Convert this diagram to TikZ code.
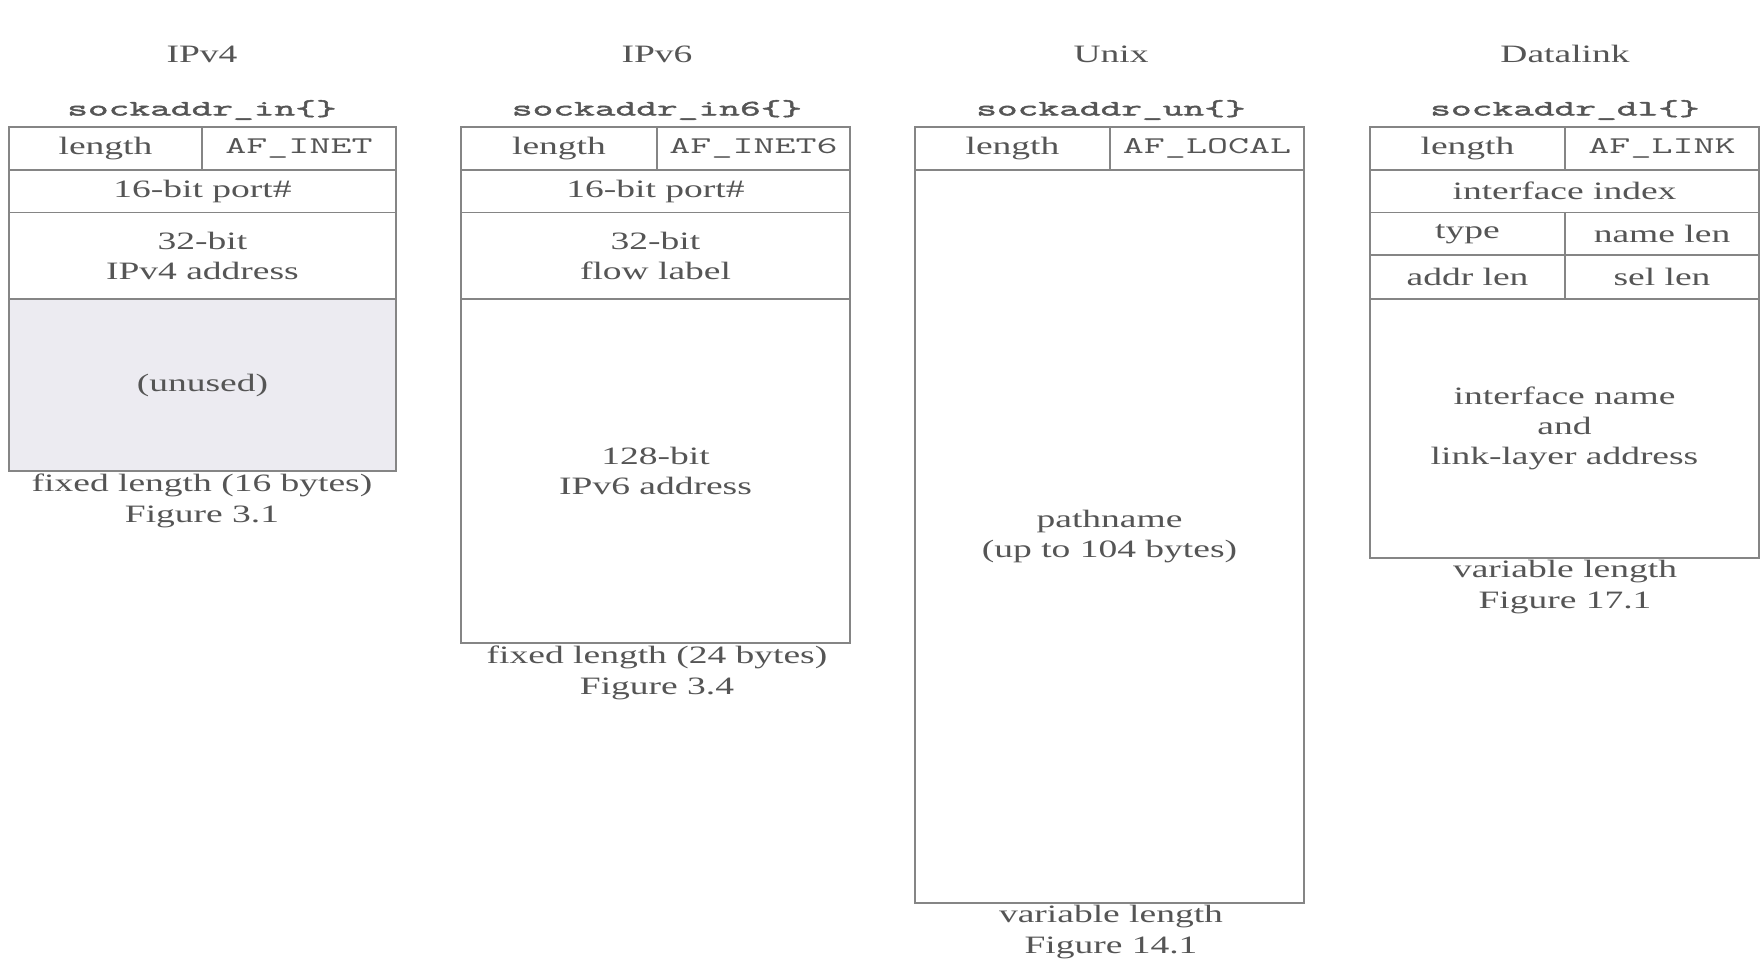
\documentclass[tikz,border=0pt]{standalone}
\usepackage{fontspec}
\setmainfont[FakeStretch=1.5]{Liberation Serif}
\newfontfamily\codefont{Latin Modern Mono}[FakeStretch=1.83, FakeBold=2.2]
\newfontfamily\affont{Latin Modern Mono}[FakeStretch=1.7]
\definecolor{linegray}{HTML}{858585}
\definecolor{textgray}{HTML}{555555}
\definecolor{unusedfill}{HTML}{ECEBF1}
\tikzset{
  x=1pt, y=-1pt,
  every node/.style={text=textgray, inner sep=0pt, outer sep=0pt, font=\fontsize{25}{30}\selectfont, align=center},
  cell/.style={draw=linegray, line width=1.8pt},
  aflabel/.style={font=\affont\fontsize{24}{28}\selectfont},
  structname/.style={font=\codefont\fontsize{22}{26}\selectfont},
  title/.style={font=\fontsize{25}{30}\selectfont},
  caption/.style={font=\fontsize{25}{31}\selectfont},
}
\begin{document}
\begin{tikzpicture}
\fill[white] (0,0) rectangle (1763,962);
\useasboundingbox (0,0) rectangle (1763,962);

% ---------- IPv4 ----------
\node[title] (t4) at (202,54) {IPv4};
\node[structname] (s4) at (202,110) {sockaddr\_in\{\}};
\node[cell, minimum width=193pt, minimum height=43pt] (v4len) at (105.5,148.5) {length};
\node[cell, aflabel, minimum width=194pt, minimum height=43pt] (v4af) at (299,148.5) {AF\_INET};
\node[cell, minimum width=387pt, minimum height=42.5pt] (v4port) at (202.5,191.25) {16-bit port\#};
\node[cell, minimum width=387pt, minimum height=86.5pt] (v4addr) at (202.5,255.75) {32-bit\\IPv4 address};
\node[cell, fill=unusedfill, minimum width=387pt, minimum height=172pt] (v4un) at (202.5,385) {(unused)};
\node[caption] (c4) at (202,500.5) {fixed length (16 bytes)\\Figure 3.1};

% ---------- IPv6 ----------
\node[title] (t6) at (657,54) {IPv6};
\node[structname] (s6) at (657,110) {sockaddr\_in6\{\}};
\node[cell, minimum width=196pt, minimum height=43pt] (v6len) at (559,148.5) {length};
\node[cell, aflabel, minimum width=193pt, minimum height=43pt] (v6af) at (753.5,148.5) {AF\_INET6};
\node[cell, minimum width=389pt, minimum height=42.5pt] (v6port) at (655.5,191.25) {16-bit port\#};
\node[cell, minimum width=389pt, minimum height=86.5pt] (v6flow) at (655.5,255.75) {32-bit\\flow label};
\node[cell, minimum width=389pt, minimum height=344pt] (v6addr) at (655.5,471) {128-bit\\IPv6 address};
\node[caption] (c6) at (657,672.5) {fixed length (24 bytes)\\Figure 3.4};

% ---------- Unix ----------
\node[title] (tu) at (1111,54) {Unix};
\node[structname] (su) at (1111,110) {sockaddr\_un\{\}};
\node[cell, minimum width=195pt, minimum height=43pt] (unlen) at (1012.5,148.5) {length};
\node[cell, aflabel, minimum width=194pt, minimum height=43pt] (unaf) at (1207,148.5) {AF\_LOCAL};
\node[cell, minimum width=389pt, minimum height=733pt] (unpath) at (1109.5,536.5) {pathname\\(up to 104 bytes)};
\node[caption] (cu) at (1111,932) {variable length\\Figure 14.1};

% ---------- Datalink ----------
\node[title] (td) at (1565,54) {Datalink};
\node[structname] (sd) at (1565,110) {sockaddr\_dl\{\}};
\node[cell, minimum width=195pt, minimum height=43pt] (dllen) at (1467.5,148.5) {length};
\node[cell, aflabel, minimum width=194pt, minimum height=43pt] (dlaf) at (1662,148.5) {AF\_LINK};
\node[cell, minimum width=389pt, minimum height=42.5pt] (dlidx) at (1564.5,191.25) {interface index};
\node[cell, minimum width=195pt, minimum height=42.5pt] (dltype) at (1467.5,233.75) {type};
\node[cell, minimum width=194pt, minimum height=42.5pt] (dlnlen) at (1662,233.75) {name len};
\node[cell, minimum width=195pt, minimum height=44pt] (dlalen) at (1467.5,277) {addr len};
\node[cell, minimum width=194pt, minimum height=44pt] (dlslen) at (1662,277) {sel len};
\node[cell, minimum width=389pt, minimum height=259pt] (dlname) at (1564.5,428.5) {interface name\\and\\link-layer address};
\node[caption] (cd) at (1565,587) {variable length\\Figure 17.1};
\end{tikzpicture}
\end{document}
